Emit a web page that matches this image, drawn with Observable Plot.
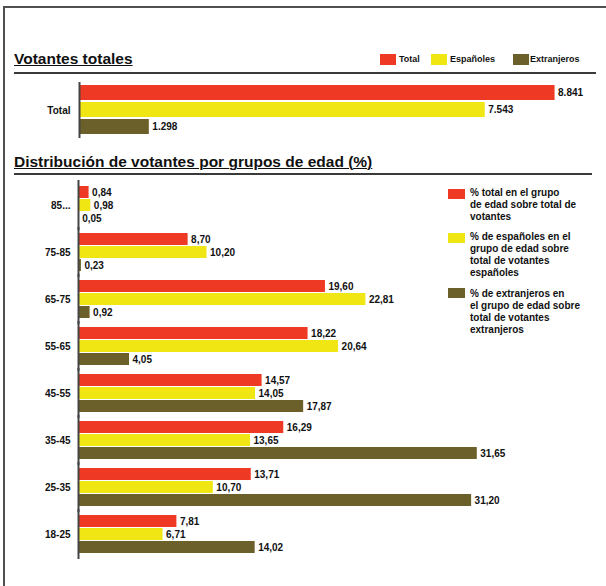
<!DOCTYPE html>
<html>
<head>
<meta charset="utf-8">
<script src="https://cdn.jsdelivr.net/npm/d3@7"></script>
<script src="https://cdn.jsdelivr.net/npm/@observablehq/plot@0.6"></script>
<style>
  html, body { margin: 0; padding: 0; background: #fff; }
  body { width: 606px; height: 586px; position: relative; overflow: hidden;
         font-family: "Liberation Sans", Arial, sans-serif; font-weight: bold; color: #111; }
  .abs { position: absolute; }
  .frame { left: 3px; top: 6px; width: 640px; height: 620px;
           border-left: 2px solid #505050; border-top: 2px solid #505050; }
  .title { font-size: 15.5px; line-height: 16px; text-decoration: underline; text-decoration-thickness: 1px; text-underline-offset: 1px; white-space: nowrap; }
  .rule { height: 2px; background: #3a3a3a; }
  .sw { width: 16px; height: 11px; }
  .lt { font-size: 9px; line-height: 11px; white-space: nowrap; }
  .lg { font-size: 10px; line-height: 12px; white-space: nowrap; }
  #top, #bottom { position: absolute; left: 0; }
  #top { top: 78px; }
  #bottom { top: 180px; }
  svg g[aria-label="fy-axis"] text { font-size: 11px; font-weight: bold; }
</style>
</head>
<body>
<div class="abs frame"></div>
<div id="top"></div>
<div id="bottom"></div>

<div class="abs title" style="left:14px; top:51px;">Votantes totales</div>
<div class="abs rule" style="left:14px; top:72px; width:582px;"></div>
<div id="legendTop"></div>

<div class="abs title" style="left:14px; top:154px;">Distribución de votantes por grupos de edad (%)</div>
<div class="abs rule" style="left:14px; top:173px; width:578px;"></div>
<div id="legendRight"></div>

<script>
// ---- data ----
const series = ["Total", "Españoles", "Extranjeros"];
const seriesColors = ["#ee3a24", "#f0e614", "#6b6029"];
const totalCategory = ["Total"];
const totalVoters = [8841, 7543, 1298];

const ageGroups = ["85...", "75-85", "65-75", "55-65", "45-55", "35-45", "25-35", "18-25"];
const pctTotal = [0.84, 8.70, 19.60, 18.22, 14.57, 16.29, 13.71, 7.81];
const pctSpanish = [0.98, 10.20, 22.81, 20.64, 14.05, 13.65, 10.70, 6.71];
const pctForeign = [0.05, 0.23, 0.92, 4.05, 17.87, 31.65, 31.20, 14.02];

const legendTexts = [
  ["% total en el grupo", "de edad sobre total de", "votantes"],
  ["% de españoles en el", "grupo de edad sobre", "total de votantes", "españoles"],
  ["% de extranjeros en", "el grupo de edad sobre", "total de votantes", "extranjeros"]
];

// ---- tables ----
const topData = series.map((s, i) => ({cat: totalCategory[0], serie: s, value: totalVoters[i]}));
const pctSeries = [pctTotal, pctSpanish, pctForeign];
const ageData = [];
ageGroups.forEach((g, gi) => series.forEach((s, si) => ageData.push({group: g, serie: s, value: pctSeries[si][gi]})));

const fmtInt = v => d3.format(",")(v).replace(/,/g, ".");
const fmtPct = v => v.toFixed(2).replace(".", ",");

const baseStyle = {background: "transparent", fontFamily: "'Liberation Sans', Arial, sans-serif",
                   fontSize: "10px", fontWeight: "bold", overflow: "visible"};

const topPlot = Plot.plot({
  width: 606, height: 64,
  marginLeft: 79, marginRight: 16, marginTop: 4, marginBottom: 4,
  style: baseStyle,
  x: {domain: [0, 9500], axis: null},
  y: {domain: series, axis: null, padding: 0.1},
  fy: {domain: totalCategory, axis: "left", label: null, tickSize: 0, tickPadding: 9, padding: 0.03},
  color: {domain: series, range: seriesColors},
  facet: {data: topData, y: "cat"},
  marks: [
    Plot.barX(topData, {x: "value", y: "serie", fill: "serie"}),
    Plot.text(topData, {x: "value", y: "serie", text: d => fmtInt(d.value), textAnchor: "start", dx: 3, fill: "#111"}),
    Plot.ruleX([0], {stroke: "#444", strokeWidth: 2, insetTop: -1, insetBottom: -1})
  ]
});
document.getElementById("top").appendChild(topPlot);

const bottomPlot = Plot.plot({
  width: 606, height: 380,
  marginLeft: 78, marginRight: 24, marginTop: 3, marginBottom: 4,
  style: baseStyle,
  x: {domain: [0, 40], axis: null},
  y: {domain: series, axis: null, padding: 0.08},
  fy: {domain: ageGroups, axis: "left", label: null, tickSize: 0, tickPadding: 8, padding: 0.11},
  color: {domain: series, range: seriesColors},
  facet: {data: ageData, y: "group"},
  marks: [
    Plot.barX(ageData, {x: "value", y: "serie", fill: "serie"}),
    Plot.text(ageData, {x: "value", y: "serie", text: d => fmtPct(d.value), textAnchor: "start", dx: 3, fill: "#111"}),
    Plot.ruleX([0], {stroke: "#444", strokeWidth: 2, insetTop: -4, insetBottom: -4})
  ]
});
document.getElementById("bottom").appendChild(bottomPlot);

// ---- top legend ----
const lt = document.getElementById("legendTop");
const topLegendPos = [[380, 399], [431, 450], [513, 530]];
series.forEach((s, i) => {
  const sw = document.createElement("div");
  sw.className = "abs sw";
  sw.style.left = topLegendPos[i][0] + "px"; sw.style.top = "54px"; sw.style.background = seriesColors[i];
  lt.appendChild(sw);
  const t = document.createElement("div");
  t.className = "abs lt";
  t.style.left = topLegendPos[i][1] + "px"; t.style.top = "54px"; t.textContent = s;
  lt.appendChild(t);
});

// ---- right legend ----
const lr = document.getElementById("legendRight");
const swTops = [189, 233, 288];
const txtTops = [187, 231, 288];
legendTexts.forEach((lines, i) => {
  const sw = document.createElement("div");
  sw.className = "abs";
  sw.style.cssText = `left:448px; top:${swTops[i]}px; width:17px; height:10px; background:${seriesColors[i]};`;
  lr.appendChild(sw);
  const t = document.createElement("div");
  t.className = "abs lg";
  t.style.left = "470px"; t.style.top = txtTops[i] + "px";
  t.innerHTML = lines.join("<br>");
  lr.appendChild(t);
});
</script>
</body>
</html>
